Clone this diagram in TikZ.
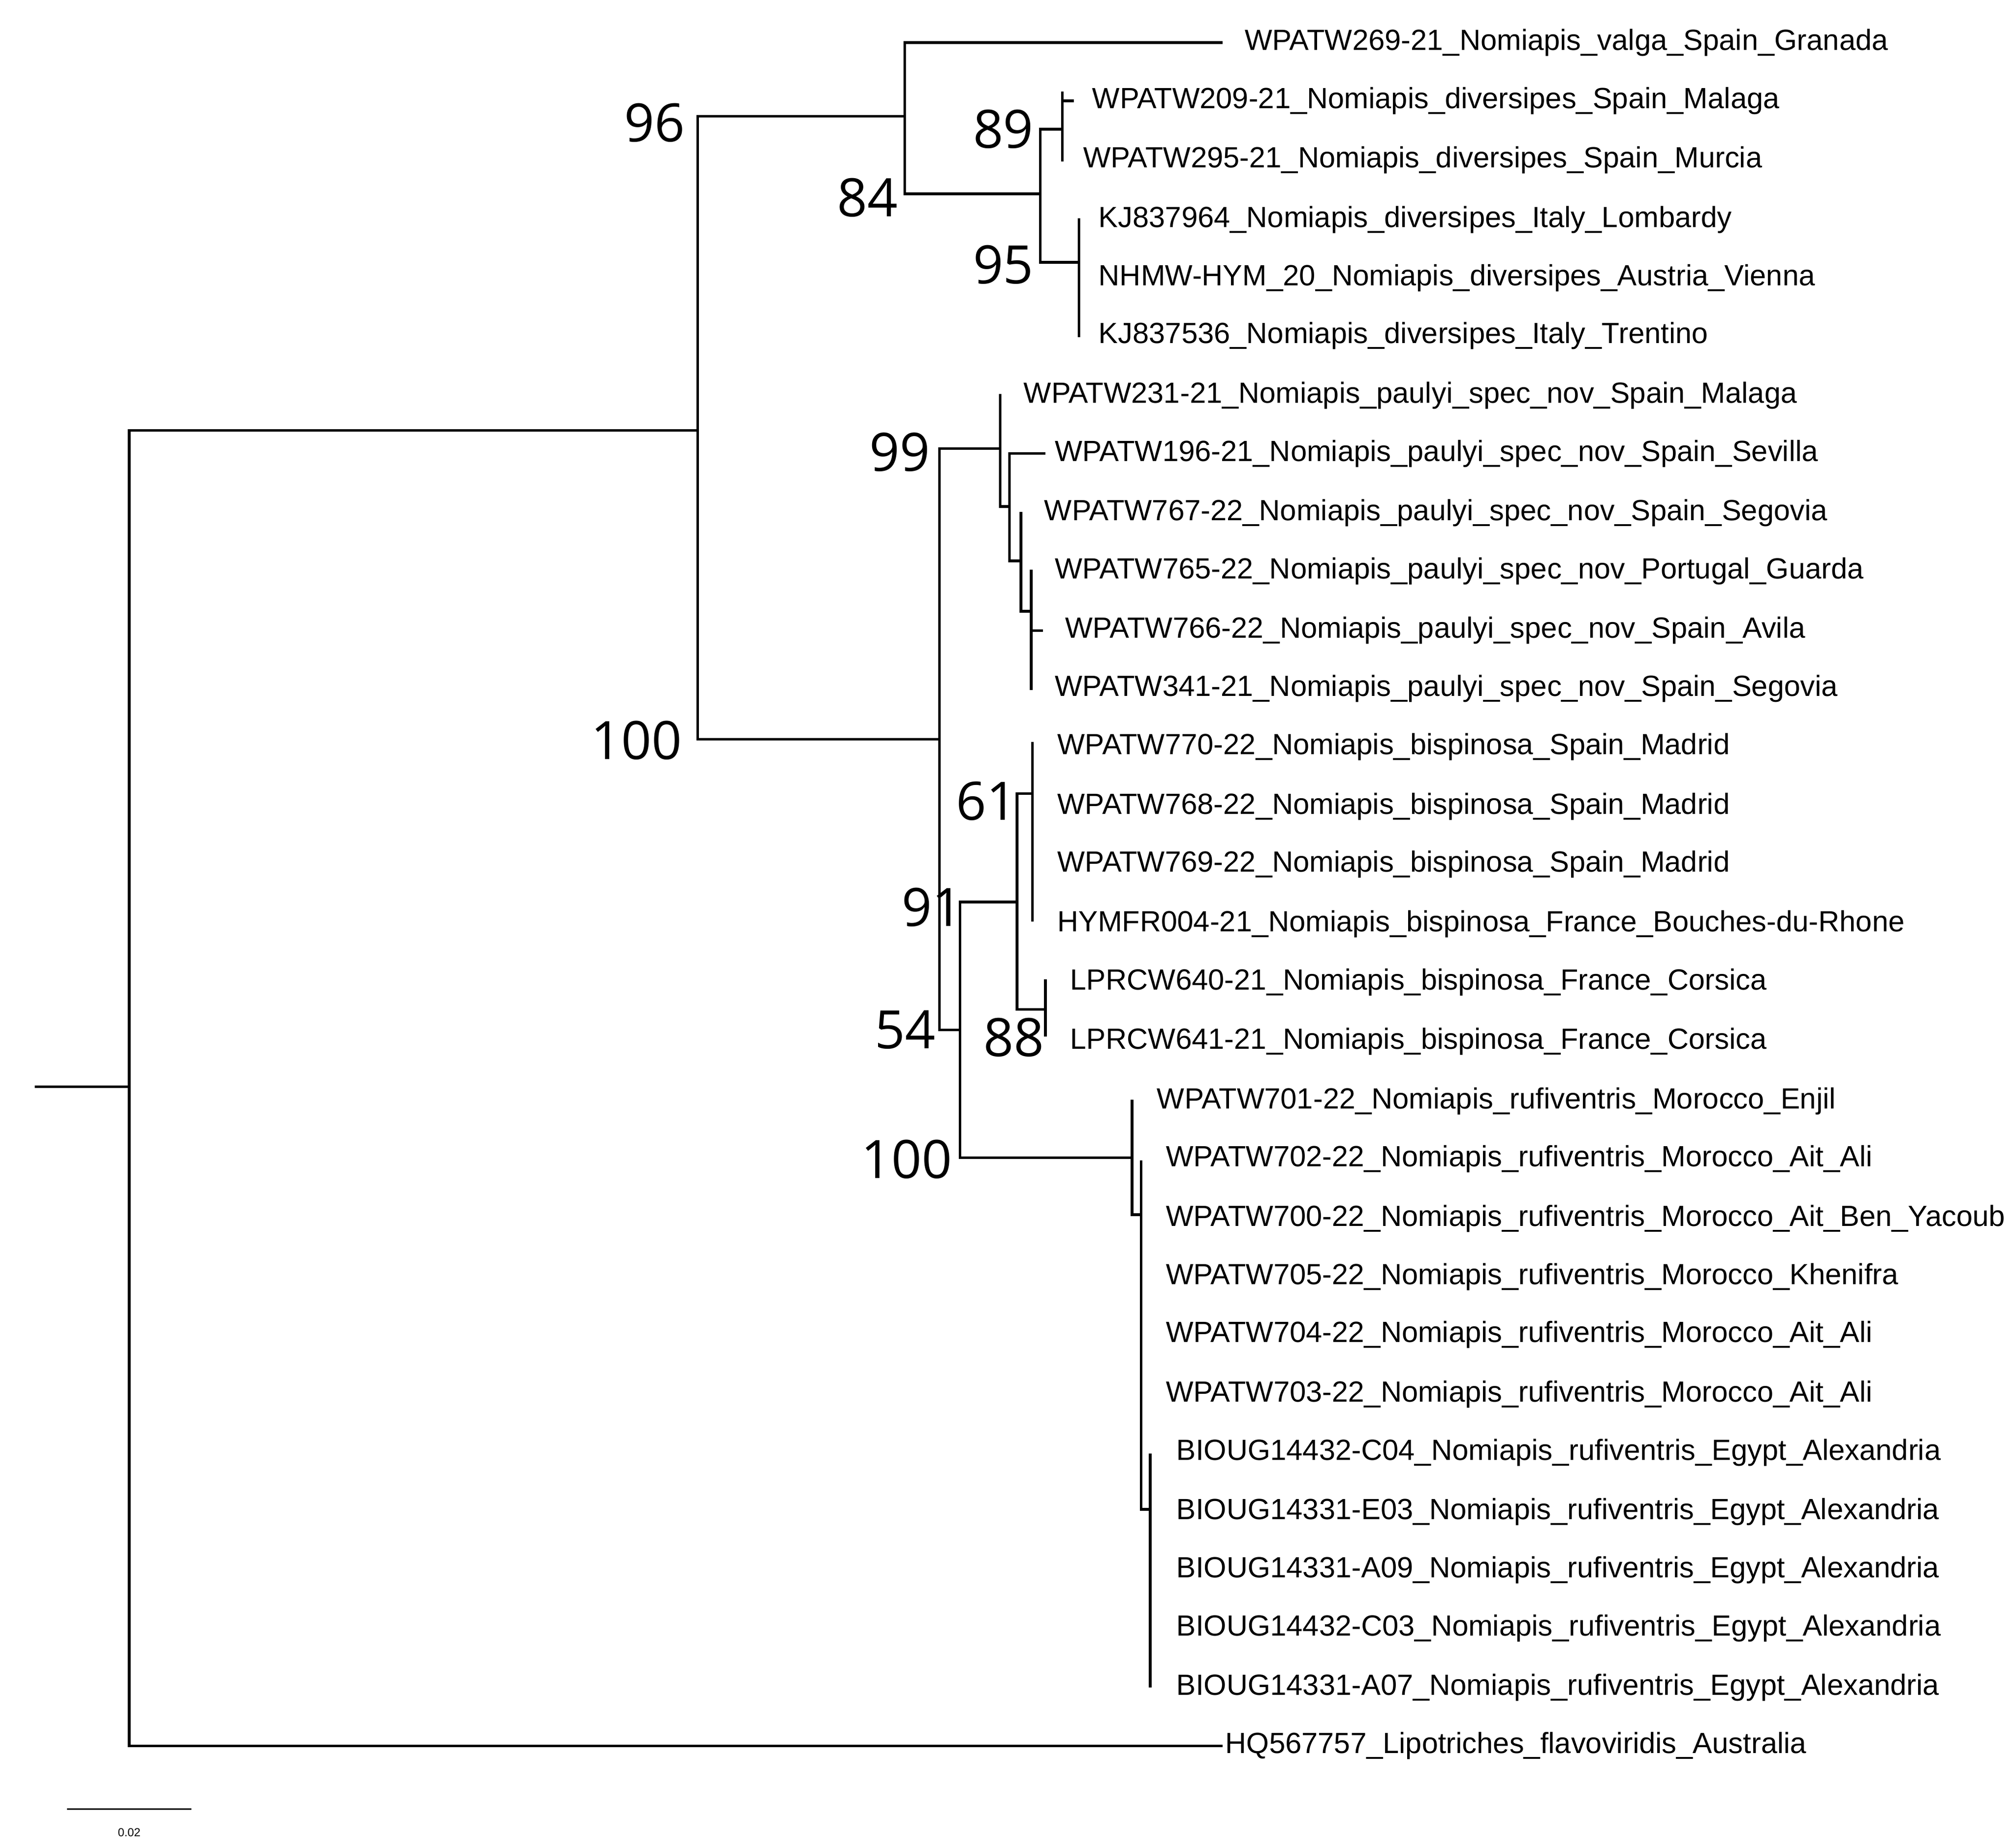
\documentclass[tikz,border=0pt]{standalone}
\usepackage{fontspec}
\setmainfont{Liberation Sans}
\newfontfamily\bsf{Open Sans}
\begin{document}
\begin{tikzpicture}[x=1pt,y=-1pt,
 br/.style={line width=2pt,line cap=rect},
 lab/.style={anchor=west,font=\fontsize{22.6}{24}\selectfont,inner sep=0},
 bs/.style={anchor=east,font=\bsf\fontsize{41}{44}\selectfont,inner sep=0}]
\useasboundingbox[fill=white] (0,0) rectangle (1560,1430);
% tip labels
\foreach \n/\x/\y/\t in {
 t0/963/33/WPATW269-21\_Nomiapis\_valga\_Spain\_Granada,
 t1/845/78/WPATW209-21\_Nomiapis\_diversipes\_Spain\_Malaga,
 t2/838/124/WPATW295-21\_Nomiapis\_diversipes\_Spain\_Murcia,
 t3/850/170/KJ837964\_Nomiapis\_diversipes\_Italy\_Lombardy,
 t4/850/215/NHMW-HYM\_20\_Nomiapis\_diversipes\_Austria\_Vienna,
 t5/850/260/KJ837536\_Nomiapis\_diversipes\_Italy\_Trentino,
 t6/792/306/WPATW231-21\_Nomiapis\_paulyi\_spec\_nov\_Spain\_Malaga,
 t7/816/351/WPATW196-21\_Nomiapis\_paulyi\_spec\_nov\_Spain\_Sevilla,
 t8/808/397/WPATW767-22\_Nomiapis\_paulyi\_spec\_nov\_Spain\_Segovia,
 t9/816/442/WPATW765-22\_Nomiapis\_paulyi\_spec\_nov\_Portugal\_Guarda,
 t10/824/488/WPATW766-22\_Nomiapis\_paulyi\_spec\_nov\_Spain\_Avila,
 t11/816/533/WPATW341-21\_Nomiapis\_paulyi\_spec\_nov\_Spain\_Segovia,
 t12/818/578/WPATW770-22\_Nomiapis\_bispinosa\_Spain\_Madrid,
 t13/818/624/WPATW768-22\_Nomiapis\_bispinosa\_Spain\_Madrid,
 t14/818/669/WPATW769-22\_Nomiapis\_bispinosa\_Spain\_Madrid,
 t15/818/715/HYMFR004-21\_Nomiapis\_bispinosa\_France\_Bouches-du-Rhone,
 t16/828/760/LPRCW640-21\_Nomiapis\_bispinosa\_France\_Corsica,
 t17/828/806/LPRCW641-21\_Nomiapis\_bispinosa\_France\_Corsica,
 t18/895/852/WPATW701-22\_Nomiapis\_rufiventris\_Morocco\_Enjil,
 t19/902/897/WPATW702-22\_Nomiapis\_rufiventris\_Morocco\_Ait\_Ali,
 t20/902/943/WPATW700-22\_Nomiapis\_rufiventris\_Morocco\_Ait\_Ben\_Yacoub,
 t21/902/988/WPATW705-22\_Nomiapis\_rufiventris\_Morocco\_Khenifra,
 t22/902/1033/WPATW704-22\_Nomiapis\_rufiventris\_Morocco\_Ait\_Ali,
 t23/902/1079/WPATW703-22\_Nomiapis\_rufiventris\_Morocco\_Ait\_Ali,
 t24/910/1124/BIOUG14432-C04\_Nomiapis\_rufiventris\_Egypt\_Alexandria,
 t25/910/1170/BIOUG14331-E03\_Nomiapis\_rufiventris\_Egypt\_Alexandria,
 t26/910/1215/BIOUG14331-A09\_Nomiapis\_rufiventris\_Egypt\_Alexandria,
 t27/910/1260/BIOUG14432-C03\_Nomiapis\_rufiventris\_Egypt\_Alexandria,
 t28/910/1306/BIOUG14331-A07\_Nomiapis\_rufiventris\_Egypt\_Alexandria,
 t29/948/1351/HQ567757\_Lipotriches\_flavoviridis\_Australia}
 {\node[lab] (\n) at (\x,\y) {\t};}
% branches
\draw[br] (28,841)--(100,841) (100,333)--(100,1351) (100,333)--(540,333) (100,1351)--(945,1351);
\draw[br] (540,90)--(540,572) (540,90)--(700,90) (540,572)--(727,572);
\draw[br] (700,33)--(700,150) (700,33)--(945,33) (700,150)--(805,150);
\draw[br] (805,100)--(805,203) (805,100)--(822,100) (805,203)--(835,203);
\draw[br] (822,72)--(822,124) (822,78)--(830,78);
\draw[br] (835,170)--(835,260);
\draw[br] (727,347)--(727,797) (727,347)--(774,347) (727,797)--(743,797);
\draw[br] (774,306)--(774,392) (774,392)--(781,392);
\draw[br] (781,351)--(781,434) (781,351)--(808,351) (781,434)--(790,434);
\draw[br] (790,397)--(790,473) (790,473)--(798,473);
\draw[br] (798,442)--(798,533) (798,488)--(806,488);
\draw[br] (743,698)--(743,896) (743,698)--(787,698) (743,896)--(876,896);
\draw[br] (787,614)--(787,781) (787,614)--(799,614) (787,781)--(809,781);
\draw[br] (799,575)--(799,712);
\draw[br] (809,759)--(809,801);
\draw[br] (876,852)--(876,940) (876,940)--(883,940);
\draw[br] (883,899)--(883,1168) (883,1168)--(890,1168);
\draw[br] (890,1126)--(890,1305);
% support values
\node[bs] (b96) at (530,95) {96};
\node[bs] (b84) at (695,153) {84};
\node[bs] (b89) at (800,100) {89};
\node[bs] (b95) at (800,205) {95};
\node[bs] (b100a) at (528,573) {100};
\node[bs] (b99) at (720,350) {99};
\node[bs] (b61) at (787,620) {61};
\node[bs] (b91) at (745,702) {91};
\node[bs] (b54) at (724,797) {54};
\node[bs] (b100b) at (737,897) {100};
\node[bs] (b88) at (808,803) {88};
% scale bar
\coordinate (s1) at (52,1400); \coordinate (s2) at (148,1400);
\draw[line width=1.2pt] (s1)--(s2);
\node[font=\fontsize{9}{10}\selectfont] (sl) at (100,1418) {0.02};
\end{tikzpicture}
\end{document}
